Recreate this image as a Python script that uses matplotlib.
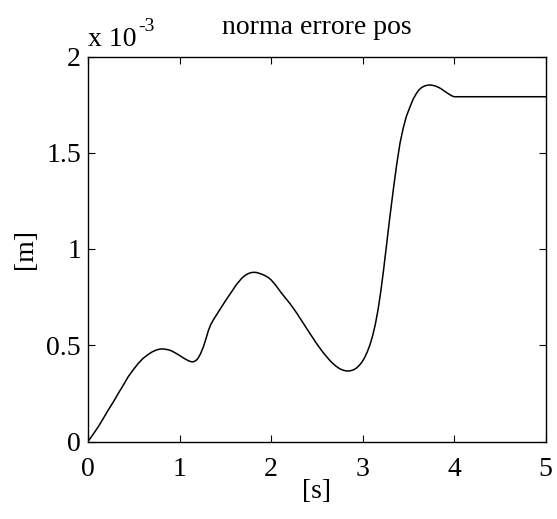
import matplotlib
matplotlib.use("Agg")
import matplotlib.pyplot as plt

# time [s]
t = [0.0, 0.06, 0.113, 0.17, 0.222, 0.28, 0.331, 0.39, 0.44, 0.50, 0.55, 0.60, 0.66, 0.70,
     0.74, 0.775, 0.805, 0.835, 0.86, 0.89, 0.915, 0.94, 0.97, 1.0, 1.024, 1.05,
     1.08, 1.105, 1.133, 1.15, 1.17, 1.19, 1.206, 1.23, 1.26, 1.29, 1.315, 1.34, 1.37,
     1.41, 1.461, 1.515, 1.57, 1.62, 1.68, 1.72, 1.75, 1.78, 1.807, 1.84,
     1.87, 1.90, 1.934, 1.97, 2.0, 2.03, 2.062, 2.10, 2.15, 2.208, 2.28, 2.353, 2.43,
     2.499, 2.57, 2.645, 2.70, 2.75, 2.79, 2.83, 2.865, 2.90, 2.93, 2.96, 2.99,
     3.02, 3.05, 3.08, 3.11, 3.14, 3.17, 3.20, 3.23, 3.26, 3.30, 3.34, 3.374, 3.41,
     3.446, 3.48, 3.519, 3.555, 3.592, 3.62, 3.65, 3.68, 3.71, 3.74, 3.77, 3.80,
     3.83, 3.86, 3.89, 3.92, 3.95, 3.975, 4.0, 5.0]
# error norm [x 1e-3 m]
err = [0.0, 0.040, 0.077, 0.122, 0.164, 0.208, 0.250, 0.296, 0.337, 0.376, 0.406, 0.431, 0.453, 0.465,
       0.474, 0.479, 0.481, 0.480, 0.478, 0.475, 0.470, 0.464, 0.456, 0.447, 0.440, 0.432,
       0.424, 0.418, 0.414, 0.414, 0.418, 0.425, 0.435, 0.456, 0.490, 0.535, 0.575, 0.606, 0.632,
       0.662, 0.700, 0.740, 0.778, 0.814, 0.848, 0.864, 0.872, 0.877, 0.879, 0.878,
       0.874, 0.869, 0.862, 0.852, 0.840, 0.824, 0.805, 0.780, 0.750, 0.716, 0.668, 0.614, 0.558,
       0.508, 0.462, 0.420, 0.395, 0.378, 0.370, 0.366, 0.367, 0.372, 0.380, 0.393, 0.410,
       0.433, 0.463, 0.500, 0.548, 0.608, 0.685, 0.780, 0.890, 1.010, 1.170, 1.320, 1.440, 1.550,
       1.630, 1.690, 1.738, 1.780, 1.810, 1.828, 1.840, 1.847, 1.851, 1.852, 1.850, 1.846,
       1.840, 1.832, 1.822, 1.812, 1.803, 1.796, 1.791, 1.791]

xticks = [0, 1, 2, 3, 4, 5]
yticks = [0, 0.5, 1, 1.5, 2]
ytick_labels = ["0", "0.5", "1", "1.5", "2"]

plt.rcParams['font.family'] = ['Liberation Serif', 'DejaVu Serif']
fig = plt.figure(figsize=(5.57, 5.19), dpi=100)
ax = fig.add_axes([88/557, 1-441.5/519, (545.5-88)/557, (441.5-56.5)/519])
ax.plot(t, err, color='black', lw=1.1)
ax.set_xlim(0, 5)
ax.set_ylim(0, 2)
ax.set_xticks(xticks)
ax.set_yticks(yticks)
ax.set_yticklabels(ytick_labels)
ax.tick_params(direction='in', top=True, right=True, length=5, width=0.8,
               labelsize=20)
ax.tick_params(axis='x', pad=11)
ax.tick_params(axis='y', pad=5)
for s in ax.spines.values():
    s.set_linewidth(1.0)
ax.set_xlabel('[s]', fontsize=20, labelpad=-2)
ax.set_ylabel('[m]', fontsize=20, labelpad=6)
ax.set_title('norma errore pos', fontsize=20, pad=16)
ax.text(0.0, 1.012, 'x 10', transform=ax.transAxes, fontsize=20,
        ha='left', va='bottom')
ax.annotate('-3', xy=(0.0, 1.012), xycoords='axes fraction',
            xytext=(50, 17), textcoords='offset pixels', fontsize=14,
            ha='left', va='bottom')
fig.savefig('out.png', dpi=100)
